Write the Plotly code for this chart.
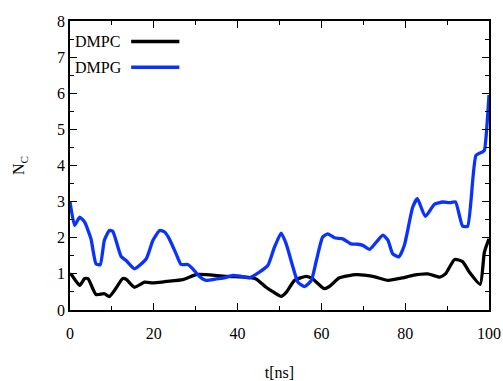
import plotly.graph_objects as go

# Time axis samples [ns] and coordination numbers for each lipid
t_dmpc = [0, 0.3, 2.3, 3.5, 4.3, 6.2, 8.2, 9.4, 10.6, 12.6, 13.4, 15.4, 17.8, 19.8,
          23.0, 26.9, 30.1, 32.5, 37.3, 42.1, 44.4, 46.8, 48.5, 50.4, 51.6, 53.6,
          56.4, 57.9, 60.7, 61.9, 64.3, 68.3, 72.3, 75.9, 79.4, 81.8, 85.4, 88.2,
          89.6, 91.8, 93.7, 95.3, 97.9, 98.9, 100]
nc_dmpc = [1.0, 0.98, 0.68, 0.87, 0.87, 0.43, 0.45, 0.37, 0.54, 0.87, 0.85, 0.63,
           0.77, 0.75, 0.79, 0.84, 0.98, 0.98, 0.93, 0.91, 0.86, 0.63, 0.50, 0.38,
           0.49, 0.82, 0.93, 0.86, 0.59, 0.65, 0.89, 0.98, 0.93, 0.82, 0.89, 0.96,
           1.0, 0.91, 1.0, 1.40, 1.34, 1.05, 0.71, 1.60, 1.97]

t_dmpg = [0, 1.1, 2.3, 3.5, 5.0, 6.2, 7.2, 8.2, 9.4, 10.2, 12.2, 13.4, 15.4, 18.2,
          19.8, 21.4, 22.6, 23.7, 25.3, 26.5, 28.1, 29.3, 30.9, 32.5, 34.9, 36.5,
          38.9, 40.9, 42.8, 45.2, 47.2, 48.8, 50.4, 51.6, 53.2, 54.4, 56.0, 57.6,
          58.8, 60.3, 61.5, 63.1, 65.1, 67.1, 68.7, 69.9, 71.5, 73.1, 74.7, 75.9,
          77.0, 78.5, 79.8, 81.8, 82.9, 84.8, 87.0, 89.0, 90.6, 92.0, 93.7, 94.9,
          96.9, 98.5, 98.9, 100]
nc_dmpg = [3.0, 2.34, 2.57, 2.43, 1.97, 1.28, 1.25, 1.93, 2.2, 2.18, 1.48, 1.37,
           1.14, 1.42, 1.93, 2.2, 2.16, 1.97, 1.56, 1.26, 1.26, 1.14, 0.93, 0.82,
           0.86, 0.88, 0.96, 0.93, 0.89, 1.05, 1.23, 1.74, 2.13, 1.83, 1.19, 0.77,
           0.65, 0.82, 1.37, 2.02, 2.11, 2.0, 1.97, 1.83, 1.82, 1.79, 1.68, 1.88,
           2.07, 1.93, 1.56, 1.47, 1.79, 2.85, 3.08, 2.59, 2.93, 2.99, 2.97, 2.99,
           2.32, 2.32, 4.28, 4.38, 4.42, 5.95]

x_ticks = [0, 20, 40, 60, 80, 100]
y_ticks = [0, 1, 2, 3, 4, 5, 6, 7, 8]
series_names = ["DMPC", "DMPG"]
series_colors = ["#000000", "#0a32ff"]

FONT = "Times New Roman"
FSIZE = 16

fig = go.Figure()
fig.add_trace(go.Scatter(x=t_dmpc, y=nc_dmpc, mode="lines", name=series_names[0],
                         line=dict(color=series_colors[0], width=3.3,
                                   shape="spline", smoothing=0.5)))
fig.add_trace(go.Scatter(x=t_dmpg, y=nc_dmpg, mode="lines", name=series_names[1],
                         line=dict(color=series_colors[1], width=3.3,
                                   shape="spline", smoothing=0.5)))

axis_common = dict(
    showgrid=False, zeroline=False, showline=True, linecolor="black", linewidth=1.5,
    mirror="ticks", ticks="inside", ticklen=7, tickwidth=1, tickcolor="black",
    tickfont=dict(family=FONT, size=FSIZE, color="black"), automargin=False,
)

fig.update_xaxes(range=[0, 100], tickvals=x_ticks, ticklabelstandoff=8,
                 minor=dict(ticks="inside", ticklen=4, dtick=10, tick0=0, tickcolor="black"),
                 title=dict(text="t[ns]", font=dict(family=FONT, size=FSIZE, color="black"),
                            standoff=30),
                 **axis_common)
fig.update_yaxes(range=[0, 8], tickvals=y_ticks,
                 minor=dict(ticks="inside", ticklen=4, dtick=0.5, tick0=0, tickcolor="black"),
                 title=dict(text="N<sub>C</sub>", font=dict(family=FONT, size=FSIZE, color="black"),
                            standoff=28),
                 **axis_common)

# Key: label followed by a line sample, drawn in the upper-left corner
legend_y = [0.929, 0.84]
for name, color, ly in zip(series_names, series_colors, legend_y):
    fig.add_annotation(x=0.008, y=ly, xref="paper", yref="paper", text=name,
                       showarrow=False, xanchor="left", yanchor="middle",
                       font=dict(family=FONT, size=FSIZE, color="black"))
    fig.add_shape(type="line", xref="paper", yref="paper", x0=0.146, x1=0.261,
                  y0=ly, y1=ly, line=dict(color=color, width=3.3))

fig.update_layout(
    width=503, height=381,
    margin=dict(l=70, r=14, t=21, b=71),
    font=dict(family=FONT, size=FSIZE, color="black"),
    plot_bgcolor="white", paper_bgcolor="white",
    showlegend=False,
)

fig.write_html("out.html")
